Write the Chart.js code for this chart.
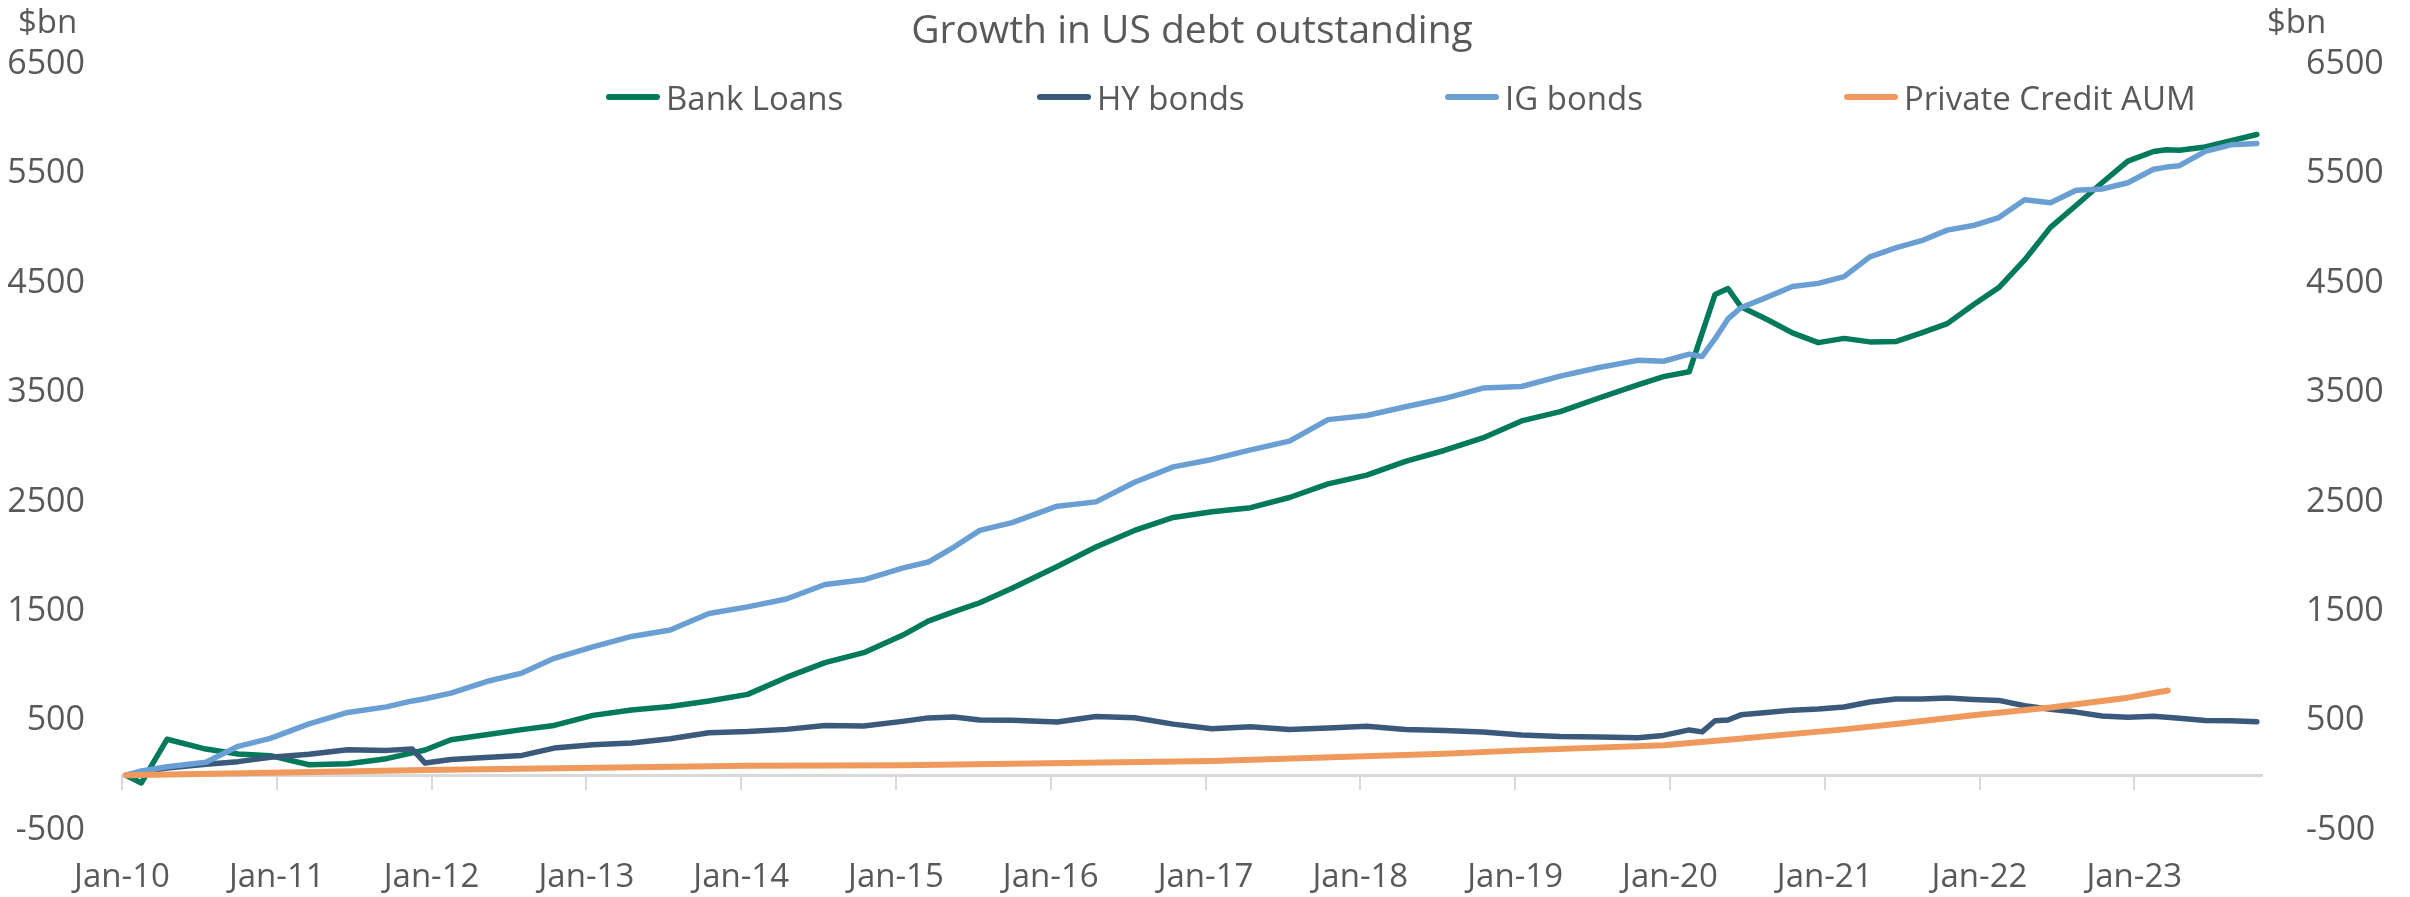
<!DOCTYPE html>
<html lang="en">

<head>
    <meta charset="UTF-8">
    <title>Growth in US debt outstanding</title>
    <style>
        body {
            margin: 0;
            background: #ffffff;
            font-family: "Open Sans", Arial, sans-serif;
            color: #595959;
        }

        #wrap {
            position: relative;
            width: 2410px;
            height: 897px;
        }

        .unit {
            position: absolute;
            top: 1px;
            font-size: 33px;
            line-height: 40px;
        }

        .legend-item {
            position: absolute;
            top: 77px;
            height: 40px;
            display: flex;
            align-items: center;
            font-size: 33px;
            white-space: nowrap;
        }

        .legend-line {
            display: inline-block;
            width: 54px;
            height: 6px;
            border-radius: 3px;
            margin-right: 6px;
        }
    </style>
</head>

<body>
    <div id="wrap">
        <canvas id="debtChart"></canvas>
        <span class="unit" style="left: 18px;">$bn</span>
        <span class="unit" style="left: 2267px;">$bn</span>
        <div id="legend"></div>
    </div>

    <script src="https://cdn.jsdelivr.net/npm/chart.js"></script>
    <script>
        // months since Jan-10
        const months = [0.3, 1.5, 3.5, 6.5, 9, 11.5, 14.5, 17.5, 20.5, 22.5,
            23.5, 25.5, 28.5, 31, 33.5, 36.5, 39.5, 42.5, 45.5, 48.5,
            51.5, 54.5, 57.5, 60.5, 62.5, 64.5, 66.5, 69, 72.5, 75.5,
            78.5, 81.5, 84.5, 87.5, 90.5, 93.5, 96.5, 99.5, 102.5, 105.5,
            108.5, 111.5, 114.5, 117.5, 119.5, 121.5, 122.5, 123.5, 124.5, 125.5,
            127.5, 129.5, 131.5, 133.5, 135.5, 137.5, 139.5, 141.5, 143.5, 145.5,
            147.5, 149.5, 151.5, 153.5, 155.5, 157.5, 158.5, 159.5, 161.5, 163.5, 165.5];

        const bankLoans = [0, -70, 330, 240, 195, 180, 97, 106, 152, 205,
            231, 325, 375, 418, 456, 548, 598, 630, 680, 740,
            895, 1030, 1121, 1280, 1410, 1497, 1578, 1710, 1910, 2087,
            2239, 2358, 2410, 2447, 2540, 2665, 2745, 2870, 2970, 3085,
            3240, 3325, 3450, 3570, 3645, 3690, null, 4397, 4451, 4285,
            4170, 4045, 3956, 3995, 3963, 3966, 4045, 4130, 4300, 4460,
            4712, 5010, 5212, 5418, 5615, 5704, 5720, 5716, 5745, 5802, 5859];

        const hyBonds = [0, 30, 67, 102, 125, 166, 192, 233, 228, 240,
            112, 145, 166, 182, 249, 280, 295, 335, 390, 400,
            420, 455, 450, 493, 525, 533, 505, 503, 487, 538,
            527, 468, 426, 443, 418, 432, 448, 418, 410, 397,
            369, 354, 350, 343, 365, 415, 397, 499, 506, 553,
            575, 596, 607, 624, 670, 698, 698, 706, 694, 685,
            636, 604, 578, 543, 530, 539, 530, 522, 502, 498, 490];

        const igBonds = [0, 40, 79, 120, 265, 338, 470, 575, 626, 680,
            700, 751, 865, 935, 1070, 1175, 1270, 1328, 1480, 1540,
            1612, 1745, 1788, 1895, 1950, 2087, 2239, 2310, 2461, 2500,
            2680, 2820, 2888, 2975, 3055, 3252, 3290, 3370, 3445, 3541,
            3555, 3650, 3729, 3794, 3786, 3851, 3830, 3992, 4173, 4275,
            4370, 4470, 4498, 4560, 4740, 4823, 4888, 4985, 5027, 5100,
            5263, 5235, 5349, 5361, 5418, 5541, 5561, 5574, 5704, 5765, 5777];

        // private credit is reported less often and stops earlier
        const pcMonths = [0.3, 11.5, 23.5, 48.5, 60.5, 84.5, 102.5, 108.5, 119.5, 124.5,
            133.5, 137.5, 143.5, 149.5, 155.5, 158.6];
        const privateCredit = [0, 24, 49, 88, 92, 130, 198, 228, 275, 325,
            420, 470, 550, 620, 710, 775];

        const seriesNames = ["Bank Loans", "HY bonds", "IG bonds", "Private Credit AUM"];
        const seriesColors = ["#007A5A", "#3B5A7B", "#6A9FD4", "#F0995C"];
        const seriesWidths = [5.5, 5.5, 5.5, 6];
        const legendLefts = [606, 1037, 1445, 1844];

        const yearTicks = ["Jan-10", "Jan-11", "Jan-12", "Jan-13", "Jan-14", "Jan-15", "Jan-16",
            "Jan-17", "Jan-18", "Jan-19", "Jan-20", "Jan-21", "Jan-22", "Jan-23"];

        function toPoints(xs, ys) {
            return xs.map((m, i) => ({ x: m, y: ys[i] }));
        }

        const fontFamily = "'Open Sans', Arial, sans-serif";
        const textColor = "#595959";

        const datasets = [
            toPoints(months, bankLoans),
            toPoints(months, hyBonds),
            toPoints(months, igBonds),
            toPoints(pcMonths, privateCredit)
        ].map((pts, i) => ({
            label: seriesNames[i],
            data: pts,
            borderColor: seriesColors[i],
            backgroundColor: seriesColors[i],
            borderWidth: seriesWidths[i],
            pointRadius: 0,
            tension: 0,
            spanGaps: true,
            borderCapStyle: "round",
            borderJoinStyle: "round",
            order: 4 - i // later series drawn on top, like Excel
        }));

        const yTickLabel = (value) => ((value + 500) % 1000 === 0 ? value : "");

        // fixed axis sizes so the plot area sits where the original one does
        const fixWidth = (w) => (scale) => { scale.width = w; };
        const fixXAxis = (h) => (scale) => {
            scale.paddingLeft = 0;
            scale.paddingRight = 0;
            if (h !== null) scale.height = h;
        };

        new Chart(document.getElementById("debtChart"), {
            type: "line",
            data: { datasets: datasets },
            options: {
                responsive: true,
                maintainAspectRatio: false,
                animation: false,
                layout: {
                    padding: 0
                },
                plugins: {
                    legend: { display: false },
                    tooltip: { enabled: false },
                    title: {
                        display: true,
                        fullSize: false, // centre over the plot area, as in the original
                        text: "Growth in US debt outstanding",
                        color: textColor,
                        font: { family: fontFamily, size: 39, weight: "normal" },
                        padding: { top: 5, bottom: 9 }
                    }
                },
                scales: {
                    x: {
                        type: "linear",
                        position: "bottom",
                        min: 0,
                        max: 165.9,
                        grid: { display: false, drawTicks: false },
                        border: { display: false },
                        afterFit: fixXAxis(67),
                        ticks: {
                            stepSize: 12,
                            includeBounds: false,
                            autoSkip: false,
                            maxRotation: 0,
                            padding: 28,
                            color: textColor,
                            font: { family: fontFamily, size: 33 },
                            callback: (value) => yearTicks[value / 12] || ""
                        }
                    },
                    // zero line with year tick marks hanging below it
                    xZero: {
                        type: "linear",
                        position: { y: 0 },
                        min: 0,
                        max: 165.9,
                        afterFit: fixXAxis(null),
                        grid: {
                            drawOnChartArea: false,
                            drawTicks: true,
                            tickLength: 13,
                            color: "#D9D9D9",
                            lineWidth: 2
                        },
                        border: { display: true, color: "#D9D9D9", width: 3 },
                        ticks: { stepSize: 12, includeBounds: false, display: false }
                    },
                    y: {
                        position: "left",
                        min: -500,
                        max: 6500,
                        grid: { display: false, drawTicks: false },
                        border: { display: false },
                        afterFit: fixWidth(122),
                        ticks: {
                            stepSize: 500,
                            padding: 37,
                            color: textColor,
                            font: { family: fontFamily, size: 34 },
                            callback: yTickLabel
                        }
                    },
                    y2: {
                        position: "right",
                        min: -500,
                        max: 6500,
                        grid: { display: false, drawTicks: false },
                        border: { display: false },
                        afterFit: fixWidth(148),
                        ticks: {
                            stepSize: 500,
                            padding: 44,
                            color: textColor,
                            font: { family: fontFamily, size: 34 },
                            callback: yTickLabel
                        }
                    }
                }
            }
        });

        // legend built as html from the dataset list
        const legend = document.getElementById("legend");
        datasets.forEach((ds, i) => {
            const item = document.createElement("div");
            item.className = "legend-item";
            item.style.left = legendLefts[i] + "px";
            item.innerHTML = `<span class="legend-line" style="background:${ds.borderColor}"></span>${ds.label}`;
            legend.appendChild(item);
        });
    </script>
</body>

</html>
